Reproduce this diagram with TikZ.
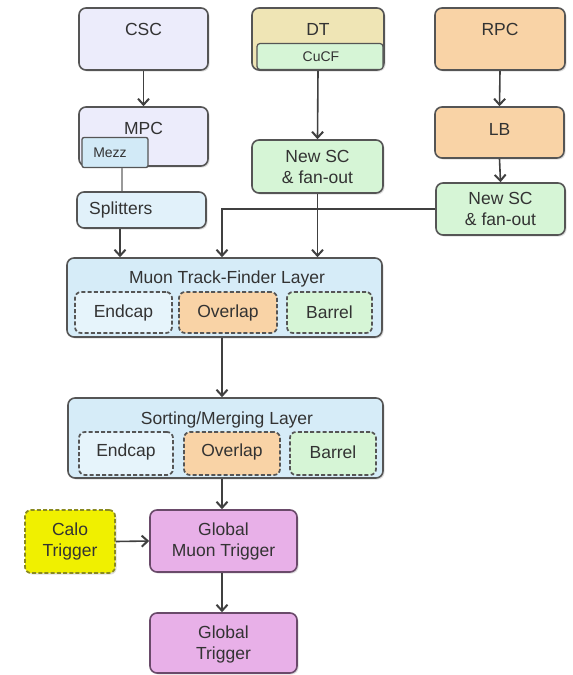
\documentclass[tikz,border=0pt]{standalone}
\usepackage{fontspec}
\setmainfont{Liberation Sans}
\usetikzlibrary{arrows.meta,shadows,calc}
\definecolor{lav}{HTML}{ECECFB}
\definecolor{tan}{HTML}{EFE5B5}
\definecolor{grn}{HTML}{D6F5D6}
\definecolor{org}{HTML}{F9D3A6}
\definecolor{lay}{HTML}{D6ECF8}
\definecolor{spl}{HTML}{E1F1FA}
\definecolor{mez}{HTML}{D2EAF7}
\definecolor{endc}{HTML}{E6F4FB}
\definecolor{yel}{HTML}{F0F000}
\definecolor{yelb}{HTML}{8A8A20}
\definecolor{vio}{HTML}{E8B0E8}
\definecolor{viob}{HTML}{6A4A6A}
\definecolor{bord}{HTML}{555555}
\definecolor{txt}{HTML}{333333}
\tikzset{
  box/.style={draw=bord, line width=1.6pt, rounded corners=7pt, inner sep=0pt,
    drop shadow={opacity=0.25, shadow xshift=1.5pt, shadow yshift=-1.5pt}},
  inbox/.style={draw=bord, line width=1.7pt, dash pattern=on 4pt off 2.2pt, rounded corners=6pt, inner sep=0pt},
  lbl/.style={text=txt, font=\fontsize{17.5}{21}\selectfont, align=center, inner sep=0pt},
  slbl/.style={text=txt, font=\fontsize{14}{16}\selectfont, inner sep=0pt},
  conn/.style={draw=black!75, line width=1.6pt},
  arr/.style={conn, -{Straight Barb[length=6pt,width=11pt,line width=2pt]}},
}
\newcommand{\bx}[7]{% name, x1,y1,x2,y2, style, text
  \node[#6, minimum width={(#4-#2)*1pt}, minimum height={(#5-#3)*1pt}] (#1) at ({(#2+#4)/2},{(#3+#5)/2}) {#7};}
\begin{document}
\begin{tikzpicture}[x=1pt,y=-1pt]
\useasboundingbox[fill=white] (0,0) rectangle (573,675);
% top row
\bx{csc}{79}{8}{208}{70}{box,fill=lav}{}
\node[lbl] (csct) at (143.5,29) {CSC};
\bx{dt}{252}{8}{384}{70}{box,fill=tan}{}
\node[draw=bord, line width=1.2pt, fill=grn, rounded corners=3pt, minimum width=126pt, minimum height=26pt, inner sep=0pt] (cucf) at (320,56.5) {};
\node[slbl] (cucft) at (321,57) {CuCF};
\node[lbl] (dtt) at (318,29) {DT};
\bx{rpc}{435}{8}{565}{70}{box,fill=org}{}
\node[lbl] (rpct) at (500,29) {RPC};
% second row
\bx{mpc}{79}{107}{208}{166}{box,fill=lav}{}
\node[lbl] (mpct) at (143.5,128) {MPC};
\node[draw=bord, line width=1.3pt, fill=mez, rounded corners=2pt, minimum width=66pt, minimum height=30pt, inner sep=0pt] (mezz) at (115,152.5) {};
\node[slbl] (mezzt) at (110,152.5) {Mezz};
\bx{lb}{435}{107}{564}{158}{box,fill=org}{}
\node[lbl] (lbt) at (499.5,129) {LB};
\bx{nsc1}{252}{140}{383}{193}{box,fill=grn}{}
\node[lbl] (nsc1t) at (317.5,166.5) {New SC\\\& fan-out};
\bx{spl}{77}{192}{206}{228}{box,fill=spl}{}
\node[lbl, anchor=west] (splt) at (89,210) {Splitters};
\bx{nsc2}{436}{183}{565}{235}{box,fill=grn}{}
\node[lbl] (nsc2t) at (500.5,209) {New SC\\\& fan-out};
% track finder layer
\bx{mtf}{67}{258}{382}{337}{box,fill=lay}{}
\node[lbl] (mtft) at (227,279) {Muon Track-Finder Layer};
\bx{mtfe}{75}{292}{172}{333}{inbox,fill=endc}{}
\node[lbl] (mtfet) at (123.5,312.5) {Endcap};
\bx{mtfo}{179}{292}{277}{333}{inbox,fill=org}{}
\node[lbl] (mtfot) at (228,312.5) {Overlap};
\bx{mtfb}{287}{292}{372}{333}{inbox,fill=grn}{}
\node[lbl] (mtfbt) at (329.5,312.5) {Barrel};
% sorting layer
\bx{srt}{68}{398}{383}{478}{box,fill=lay}{}
\node[lbl] (srtt) at (227,420) {Sorting/Merging Layer};
\bx{srte}{79}{432}{173}{475}{inbox,fill=endc}{}
\node[lbl] (srtet) at (126,452) {Endcap};
\bx{srto}{184}{432}{280}{475}{inbox,fill=org}{}
\node[lbl] (srtot) at (232,452) {Overlap};
\bx{srtb}{290}{432}{376}{475}{inbox,fill=grn}{}
\node[lbl] (srtbt) at (333,452) {Barrel};
% bottom
\bx{calo}{25}{510}{115}{573}{inbox,draw=yelb,fill=yel,drop shadow={opacity=0.25, shadow xshift=1.5pt, shadow yshift=-1.5pt}}{}
\node[lbl] (calot) at (70,541) {Calo\\Trigger};
\bx{gmt}{150}{510}{297}{572}{box,draw=viob,fill=vio}{}
\node[lbl] (gmtt) at (223.5,541) {Global\\Muon Trigger};
\bx{gt}{150}{613}{297}{673}{box,draw=viob,fill=vio}{}
\node[lbl] (gtt) at (223.5,644) {Global\\Trigger};
% connectors
\draw[arr] (csc.south) -- (mpc.north);
\draw[arr] (dt.south) -- (nsc1.north);
\draw[arr] (rpc.south) -- (lb.north);
\draw[arr] (lb.south) -- (nsc2.north);
\coordinate (mx) at (122,0);
\draw[conn, draw=black!40] (mezz.south -| mx) -- (spl.north -| mx);
\coordinate (sx) at (120,0);
\draw[arr] (spl.south -| sx) -- (mtf.north -| sx);
\coordinate (cx) at (222,0);
\draw[arr] (nsc2.west) -| (mtf.north -| cx);
\draw[arr] (nsc1.south) -- (mtf.north -| nsc1.south);
\draw[arr] (mtf.south -| cx) -- (srt.north -| cx);
\draw[arr] (srt.south -| cx) -- (gmt.north -| cx);
\draw[arr] (calo.east) -- (gmt.west);
\draw[arr] (gmt.south -| cx) -- (gt.north -| cx);
\end{tikzpicture}
\end{document}
